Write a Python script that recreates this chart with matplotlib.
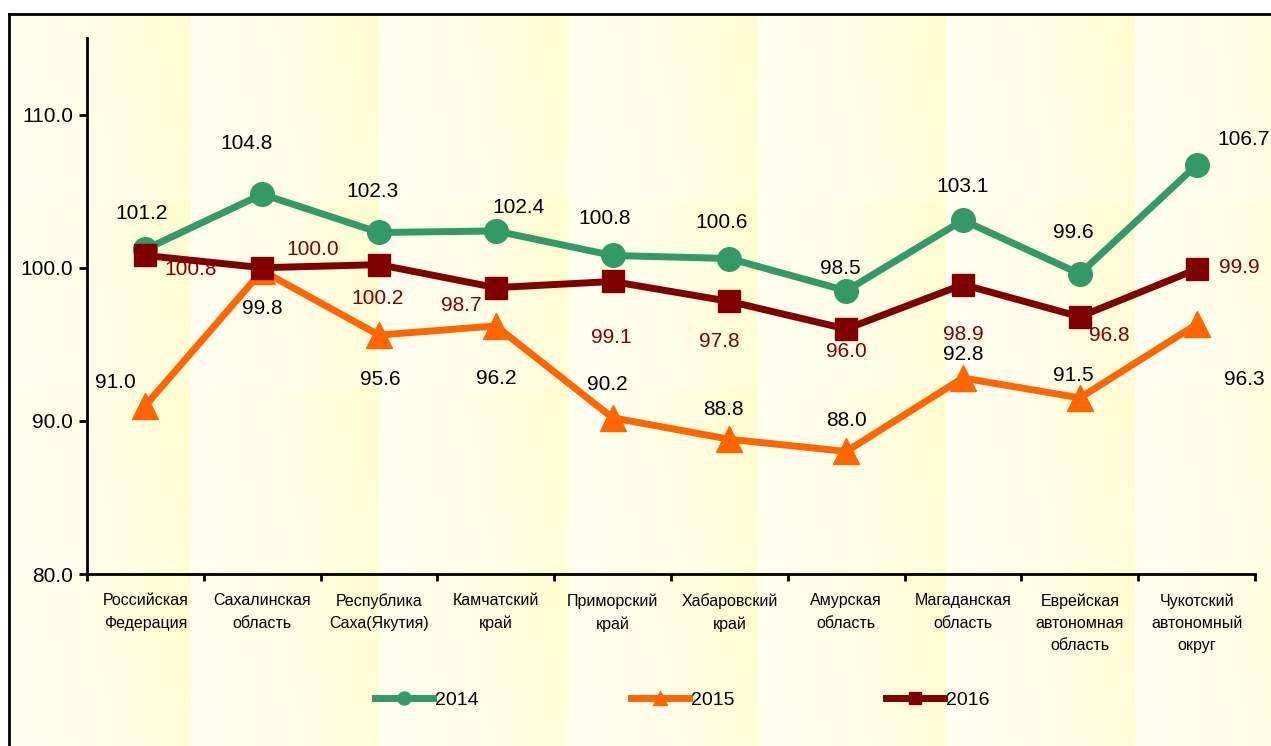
import numpy as np
import matplotlib.pyplot as plt

plt.rcParams['font.family'] = ['Liberation Sans', 'DejaVu Sans']

regions = ["Российская\nФедерация", "Сахалинская\nобласть", "Республика\nСаха(Якутия)",
           "Камчатский\nкрай", "Приморский\nкрай", "Хабаровский\nкрай", "Амурская\nобласть",
           "Магаданская\nобласть", "Еврейская\nавтономная\nобласть", "Чукотский\nавтономный\nокруг"]
v2014 = [101.2, 104.8, 102.3, 102.4, 100.8, 100.6, 98.5, 103.1, 99.6, 106.7]
v2015 = [91.0, 99.8, 95.6, 96.2, 90.2, 88.8, 88.0, 92.8, 91.5, 96.3]
v2016 = [100.8, 100.0, 100.2, 98.7, 99.1, 97.8, 96.0, 98.9, 96.8, 99.9]

# label offsets in pixels (dx, dy) from each marker
off2014 = [(-4, 36), (-16, 51), (-7, 41), (23, 23), (-8, 37), (-8, 36), (-6, 22), (0, 34), (-6, 41), (47, 26)]
off2015 = [(-30, 23), (0, -38), (1, -44), (0, -53), (-5, 33), (-6, 30), (0, 31), (0, 23), (-6, 22), (48, -55)]
off2016 = [(45, -14), (50, 18), (-1, -34), (-34, -18), (-1, -56), (-10, -40), (0, -23), (0, -50), (30, -19), (43, 2)]

W, H = 1271, 746
fig = plt.figure(figsize=(W / 100, H / 100), dpi=100)

# textured yellow background (tiled gradient)
img = np.ones((H, W, 3))
yy, xx = np.mgrid[0:H, 0:W]
fx = ((xx - 1) % 189) / 189.0
fy = ((yy - 15) % 187) / 187.0
t = np.clip(0.7 * fx ** 2 + 0.3 * (1 - fy) * fx, 0, 1)
light = np.array([1.0, 1.0, 0.94])
yellow = np.array([1.0, 0.99, 0.80])
tex = light[None, None, :] * (1 - t[..., None]) + yellow[None, None, :] * t[..., None]
mask = (xx >= 9) & (yy >= 14)
img[mask] = tex[mask]
bg = fig.add_axes([0, 0, 1, 1], zorder=-1)
bg.imshow(img, extent=(0, W, H, 0), aspect='auto', interpolation='nearest')
bg.plot([9, 9], [H, 14], color='black', lw=2)
bg.plot([9, W], [14, 14], color='black', lw=2)
bg.set_xlim(0, W)
bg.set_ylim(H, 0)
bg.axis('off')

ax = fig.add_axes([87 / W, 1 - 574 / H, (1255 - 87) / W, (574 - 38) / H])
ax.patch.set_alpha(0)
x = np.arange(len(regions))

series = [
    (v2014, '#339966', 'o', 17, '2014', off2014, 'black'),
    (v2015, '#FF6600', '^', 19, '2015', off2015, 'black'),
    (v2016, '#800000', 's', 16, '2016', off2016, '#800000'),
]
for vals, col, mk, ms, name, offs, tcol in series:
    ax.plot(x, vals, color=col, lw=5, marker=mk, markersize=ms, label=name)
    for xi, v, (dx, dy) in zip(x, vals, offs):
        ax.annotate(f"{v:.1f}", (xi, v), xytext=(dx, dy), textcoords='offset pixels',
                    ha='center', va='center', fontsize=15, color=tcol)

ax.set_xlim(-0.5, len(regions) - 0.5)
ax.set_ylim(80, 115)
ax.set_yticks([80, 90, 100, 110])
ax.set_yticklabels([f"{v:.1f}" for v in [80, 90, 100, 110]], fontsize=15)
ax.set_xticks(np.arange(-0.5, len(regions)), minor=False)
ax.set_xticklabels([])
ax.set_xticks(x, minor=True)
ax.set_xticklabels(regions, minor=True, fontsize=11.5, linespacing=1.6, va='top')
ax.tick_params(axis='x', which='minor', length=0, pad=14)
ax.tick_params(axis='x', which='major', length=5, width=2, direction='out')
ax.tick_params(axis='y', length=6, width=2, direction='out', pad=4)
for s in ['top', 'right']:
    ax.spines[s].set_visible(False)
for s in ['left', 'bottom']:
    ax.spines[s].set_linewidth(2)

leg = fig.legend(loc='center', bbox_to_anchor=(0.537, 1 - 700 / H), ncol=3, frameon=False,
                 fontsize=14, handlelength=3.0, columnspacing=7.8, markerscale=0.55,
                 handletextpad=0.1)

fig.savefig('out.png', dpi=100)
